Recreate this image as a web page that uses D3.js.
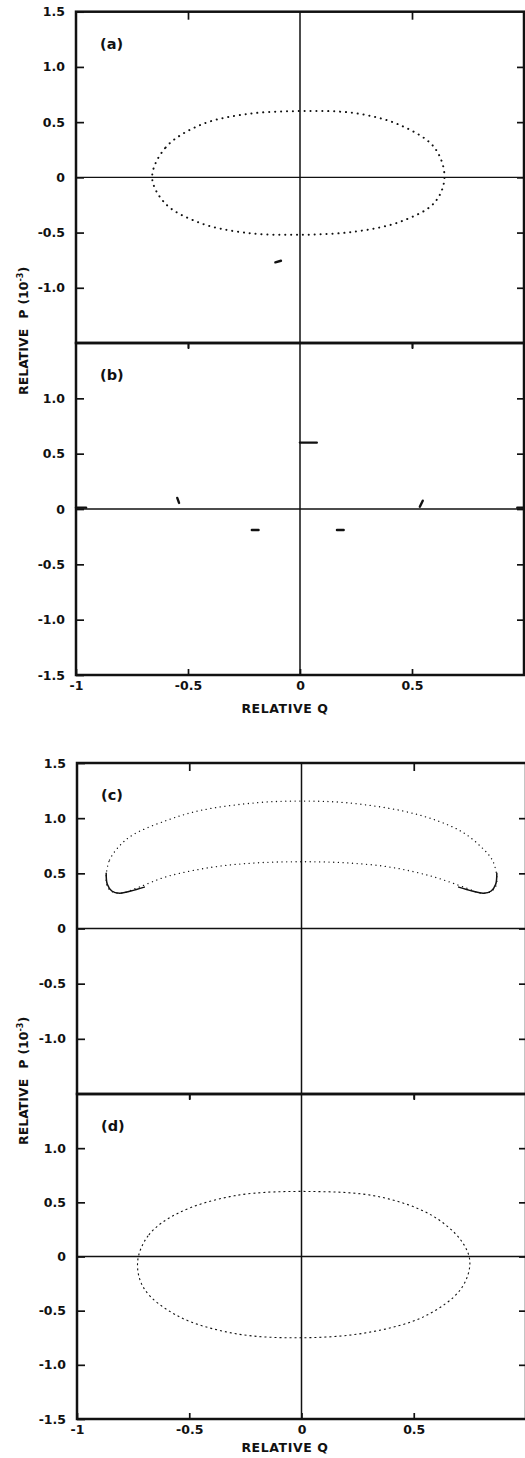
<!DOCTYPE html>
<html>
<head>
<meta charset="utf-8">
<script src="https://cdn.jsdelivr.net/npm/d3@7"></script>
<style>
  body { margin: 0; background: #fff; }
  text { font-family: "DejaVu Sans", sans-serif; font-weight: bold; fill: #111; }
</style>
</head>
<body>
<svg id="chart"></svg>
<script>
// tick values and labels
const Q_TICKS = [-1, -0.5, 0, 0.5];
const Q_TICK_LABELS = ['-1', '-0.5', '0', '0.5'];
const P_TICKS = [1.5, 1.0, 0.5, 0, -0.5, -1.0, -1.5];
const P_TICK_LABELS = ['1.5', '1.0', '0.5', '0', '-0.5', '-1.0', '-1.5'];
const PANEL_NAMES = ['(a)', '(b)', '(c)', '(d)'];

// (a) closed orbit, [Q, P]
const orbitA = [
  [-0.66, 0], [-0.6, 0.27], [-0.45, 0.47], [-0.25, 0.57], [0, 0.6],
  [0.25, 0.58], [0.45, 0.47], [0.6, 0.27], [0.645, 0], [0.6, -0.23],
  [0.45, -0.4], [0.25, -0.49], [0, -0.52], [-0.25, -0.5], [-0.45, -0.41],
  [-0.6, -0.24]
];
// short streaks [Q1, P1, Q2, P2]
const marksA = [[-0.11, -0.77, -0.085, -0.755]];
const marksB = [
  [-0.548, 0.1, -0.54, 0.055],
  [-0.215, -0.19, -0.185, -0.19],
  [0.165, -0.19, 0.195, -0.19],
  [0.535, 0.02, 0.548, 0.075],
  [0, 0.6, 0.075, 0.6],
  [-1, 0.012, -0.955, 0.012],
  [0.97, 0.012, 1.0, 0.012]
];
// (c) banana orbit
const orbitC = [
  [-0.87, 0.47], [-0.855, 0.62], [-0.81, 0.75], [-0.75, 0.85], [-0.6, 0.98],
  [-0.45, 1.07], [-0.2, 1.14], [0, 1.155], [0.2, 1.14], [0.44, 1.07],
  [0.6, 0.98], [0.72, 0.87], [0.8, 0.74], [0.85, 0.62], [0.87, 0.47],
  [0.865, 0.38], [0.84, 0.33], [0.8, 0.32], [0.73, 0.37], [0.585, 0.47],
  [0.4, 0.555], [0.2, 0.595], [0, 0.605], [-0.2, 0.595], [-0.4, 0.555],
  [-0.6, 0.47], [-0.73, 0.37], [-0.8, 0.32], [-0.84, 0.33], [-0.865, 0.38]
];
const hookLeftC = [[-0.87, 0.5], [-0.865, 0.4], [-0.845, 0.34], [-0.81, 0.32], [-0.76, 0.34], [-0.7, 0.375]];
const hookRightC = [[0.87, 0.5], [0.865, 0.4], [0.845, 0.34], [0.81, 0.32], [0.76, 0.34], [0.7, 0.375]];
// (d) closed orbit
const orbitD = [
  [-0.73, -0.05], [-0.68, 0.2], [-0.55, 0.4], [-0.3, 0.56], [0.05, 0.6],
  [0.35, 0.55], [0.58, 0.38], [0.71, 0.15], [0.75, -0.05], [0.71, -0.3],
  [0.55, -0.55], [0.3, -0.7], [0, -0.75], [-0.3, -0.71], [-0.55, -0.55],
  [-0.7, -0.3]
];

const WIDTH = 525;
const HEIGHT = 1458;
const INK = '#111';

const svg = d3.select('#chart').attr('width', WIDTH).attr('height', HEIGHT);

function fmtP(d) { return P_TICK_LABELS[P_TICKS.indexOf(d)]; }
function fmtQ(d) { return Q_TICK_LABELS[Q_TICKS.indexOf(d)]; }

function styleAxis(g) {
  g.select('.domain').remove();
  g.selectAll('.tick line').attr('stroke', INK).attr('stroke-width', 1.7);
  g.selectAll('.tick text').attr('font-size', 12.5).attr('fill', INK);
}

function drawPanel(opts) {
  const {xRange, top, bottom, name, isUpper} = opts;
  const x = d3.scaleLinear().domain([-1, 1]).range(xRange);
  const y = d3.scaleLinear().domain([-1.5, 1.5]).range([bottom, top]);
  const g = svg.append('g');

  // left axis, ticks pointing in
  const pTicks = isUpper ? P_TICKS.slice(0, 6) : P_TICKS.slice(1);
  g.append('g')
    .attr('transform', `translate(${xRange[0]},0)`)
    .call(d3.axisLeft(y).tickValues(pTicks).tickFormat(fmtP)
      .tickSizeInner(-8).tickSizeOuter(0).tickPadding(11))
    .call(styleAxis);

  // right axis ticks
  g.append('g')
    .attr('transform', `translate(${x(1)},0)`)
    .call(d3.axisRight(y).tickValues(P_TICKS.slice(1, 6)).tickFormat('')
      .tickSizeInner(-7).tickSizeOuter(0))
    .call(styleAxis);

  // top ticks
  g.append('g')
    .attr('transform', `translate(0,${top})`)
    .call(d3.axisTop(x).tickValues([-0.5, 0.5]).tickFormat('')
      .tickSizeInner(isUpper ? -8 : -6).tickSizeOuter(0))
    .call(styleAxis);

  // bottom ticks (labels only on the lower panel of each pair)
  g.append('g')
    .attr('transform', `translate(0,${bottom})`)
    .call(d3.axisBottom(x).tickValues(isUpper ? [-0.5, 0.5] : Q_TICKS)
      .tickFormat(isUpper ? '' : fmtQ)
      .tickSizeInner(isUpper ? 5 : -6).tickSizeOuter(0).tickPadding(6))
    .call(styleAxis);

  // zero lines
  g.append('line')
    .attr('x1', x(-1)).attr('x2', x(1)).attr('y1', y(0)).attr('y2', y(0))
    .attr('stroke', INK).attr('stroke-width', 1.3);
  g.append('line')
    .attr('x1', x(0)).attr('x2', x(0)).attr('y1', top).attr('y2', bottom)
    .attr('stroke', INK).attr('stroke-width', 1.5);

  // frame
  g.append('rect')
    .attr('x', x(-1)).attr('y', top)
    .attr('width', x(1) - x(-1)).attr('height', bottom - top)
    .attr('fill', 'none').attr('stroke', INK).attr('stroke-width', 2.5);

  g.append('text')
    .attr('x', x(-1) + 24).attr('y', top + 37)
    .attr('font-size', 14.5)
    .text(name);

  return {g, x, y};
}

function drawOrbit(p, data, closed, style) {
  const line = d3.line()
    .x(d => p.x(d[0]))
    .y(d => p.y(d[1]))
    .curve(closed ? d3.curveCatmullRomClosed.alpha(0.5) : d3.curveCatmullRom.alpha(0.5));
  p.g.append('path')
    .datum(data)
    .attr('d', line)
    .attr('fill', 'none')
    .attr('stroke', INK)
    .attr('stroke-width', style.width)
    .attr('stroke-linecap', style.cap || 'round')
    .attr('stroke-dasharray', style.dash || null);
}

function drawMarks(p, data) {
  p.g.selectAll(null).data(data).enter().append('line')
    .attr('x1', d => p.x(d[0])).attr('y1', d => p.y(d[1]))
    .attr('x2', d => p.x(d[2])).attr('y2', d => p.y(d[3]))
    .attr('stroke', INK).attr('stroke-width', 2.4)
    .attr('stroke-linecap', 'round');
}

const pa = drawPanel({xRange: [76, 524], top: 11.7, bottom: 343, name: PANEL_NAMES[0], isUpper: true});
const pb = drawPanel({xRange: [76, 524], top: 343, bottom: 675, name: PANEL_NAMES[1], isUpper: false});
const pc = drawPanel({xRange: [77, 526], top: 763, bottom: 1094, name: PANEL_NAMES[2], isUpper: true});
const pd = drawPanel({xRange: [77, 526], top: 1094, bottom: 1419, name: PANEL_NAMES[3], isUpper: false});

drawOrbit(pa, orbitA, true, {width: 2, dash: '0.1 5.8'});
drawMarks(pa, marksA);
drawMarks(pb, marksB);
drawOrbit(pc, orbitC, true, {width: 1.3, dash: '0.1 4.6'});
drawOrbit(pc, hookLeftC, false, {width: 1.5});
drawOrbit(pc, hookRightC, false, {width: 1.5});
drawOrbit(pd, orbitD, true, {width: 1.1, dash: '2 3', cap: 'butt'});

// axis titles
function yTitle(yStart) {
  const t = svg.append('text')
    .attr('transform', `translate(28,${yStart}) rotate(-90)`)
    .attr('font-size', 12.5);
  t.append('tspan').text('RELATIVE');
  t.append('tspan').attr('dx', 10).text('P');
  t.append('tspan').attr('dx', 5).text('(10');
  t.append('tspan').attr('font-size', 8).attr('dy', -5).text('-3');
  t.append('tspan').attr('dy', 5).text(')');
}
yTitle(395);
yTitle(1145);

function qTitle(yPos) {
  svg.append('text')
    .attr('x', 285).attr('y', yPos)
    .attr('text-anchor', 'middle')
    .attr('font-size', 12.5)
    .attr('letter-spacing', 0.6)
    .text('RELATIVE Q');
}
qTitle(713);
qTitle(1452);
</script>
</body>
</html>
